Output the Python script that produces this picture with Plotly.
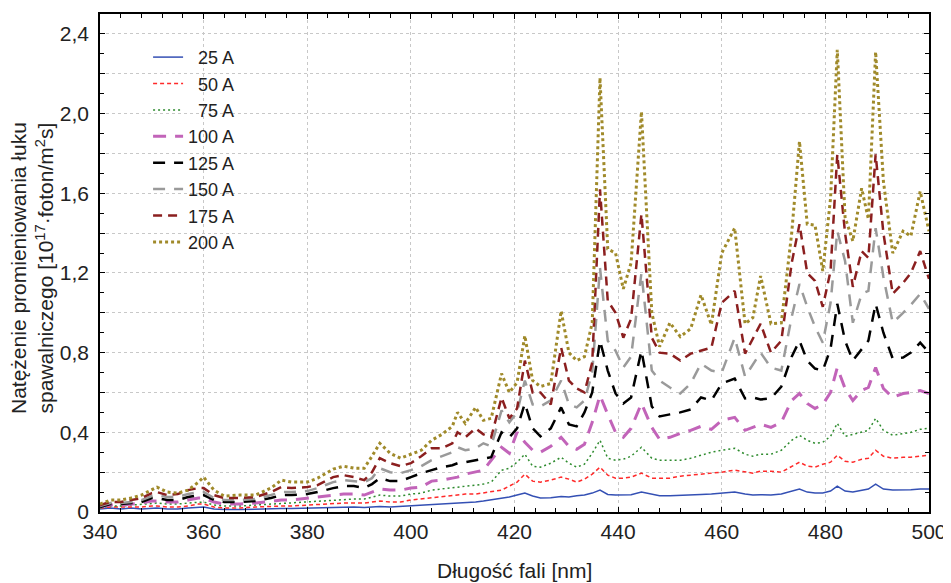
import plotly.graph_objects as go

wavelength = [340, 342, 344, 346, 348, 350, 351, 353, 355, 357, 359, 360, 362, 364, 367, 370, 373, 375, 377, 380,
              382, 385, 387, 389, 391, 392.5, 394, 396, 398, 400, 402, 404, 406, 408, 409, 410.5, 412.5, 414, 415.5, 417.5,
              419, 420.5, 422, 423.5, 425, 427, 429, 430.5, 432, 433.5, 435, 436.5, 438, 439.5, 441, 442.5, 444.5, 446.5, 448, 450,
              452, 454, 456, 458, 460, 462.5, 464.5, 466, 467.5, 469.5, 471.5, 473.5, 475, 476.5, 478, 479.5, 481, 482.3, 483.8, 485.3,
              487, 488.3, 489.7, 491.2, 493, 495, 496.5, 498.3, 500]

i_25 = [0.015, 0.02, 0.015, 0.02, 0.015, 0.02, 0.02, 0.015, 0.015, 0.02, 0.025, 0.025, 0.015, 0.012, 0.012, 0.015, 0.015, 0.018, 0.018, 0.02,
        0.02, 0.022, 0.025, 0.025, 0.022, 0.025, 0.028, 0.025, 0.028, 0.03, 0.032, 0.035, 0.038, 0.04, 0.042, 0.045, 0.05, 0.055, 0.06, 0.07,
        0.075, 0.085, 0.095, 0.08, 0.07, 0.072, 0.078, 0.075, 0.082, 0.085, 0.095, 0.11, 0.088, 0.085, 0.085, 0.087, 0.1, 0.088, 0.082, 0.082,
        0.085, 0.085, 0.088, 0.09, 0.095, 0.1, 0.09, 0.085, 0.087, 0.085, 0.09, 0.105, 0.115, 0.1, 0.095, 0.095, 0.105, 0.13, 0.105, 0.1,
        0.11, 0.115, 0.14, 0.115, 0.11, 0.11, 0.112, 0.115, 0.115]

i_50 = [0.02, 0.025, 0.025, 0.025, 0.025, 0.03, 0.03, 0.025, 0.025, 0.03, 0.04, 0.04, 0.025, 0.02, 0.02, 0.025, 0.03, 0.03, 0.03, 0.035,
        0.035, 0.04, 0.045, 0.045, 0.045, 0.05, 0.055, 0.05, 0.05, 0.06, 0.065, 0.07, 0.075, 0.08, 0.085, 0.09, 0.09, 0.095, 0.1, 0.11,
        0.13, 0.15, 0.19, 0.155, 0.15, 0.16, 0.175, 0.165, 0.15, 0.165, 0.19, 0.225, 0.185, 0.17, 0.17, 0.175, 0.195, 0.17, 0.17, 0.17,
        0.18, 0.185, 0.19, 0.195, 0.2, 0.21, 0.2, 0.195, 0.205, 0.205, 0.2, 0.23, 0.25, 0.23, 0.225, 0.24, 0.25, 0.285, 0.255, 0.25,
        0.265, 0.27, 0.31, 0.28, 0.27, 0.275, 0.275, 0.28, 0.285]

i_75 = [0.02, 0.03, 0.03, 0.035, 0.04, 0.045, 0.045, 0.04, 0.04, 0.045, 0.05, 0.05, 0.035, 0.03, 0.03, 0.035, 0.04, 0.045, 0.045, 0.05,
        0.055, 0.06, 0.065, 0.065, 0.065, 0.075, 0.085, 0.08, 0.08, 0.09, 0.095, 0.11, 0.115, 0.12, 0.125, 0.13, 0.135, 0.14, 0.15, 0.21,
        0.22, 0.25, 0.29, 0.23, 0.225, 0.245, 0.275, 0.245, 0.225, 0.24, 0.295, 0.36, 0.27, 0.26, 0.265, 0.28, 0.325, 0.27, 0.26, 0.26,
        0.26, 0.27, 0.285, 0.3, 0.31, 0.32, 0.29, 0.28, 0.29, 0.29, 0.31, 0.36, 0.385, 0.36, 0.345, 0.35, 0.38, 0.445, 0.38, 0.39,
        0.4, 0.41, 0.47, 0.41, 0.385, 0.395, 0.4, 0.415, 0.42]

i_100 = [0.025, 0.035, 0.035, 0.04, 0.045, 0.055, 0.055, 0.05, 0.05, 0.06, 0.07, 0.07, 0.05, 0.04, 0.04, 0.045, 0.055, 0.06, 0.06, 0.07,
         0.075, 0.085, 0.09, 0.09, 0.085, 0.1, 0.115, 0.11, 0.11, 0.12, 0.125, 0.155, 0.16, 0.17, 0.175, 0.19, 0.2, 0.21, 0.26, 0.325,
         0.295, 0.4, 0.35, 0.31, 0.3, 0.33, 0.375, 0.33, 0.315, 0.34, 0.45, 0.585, 0.49, 0.4, 0.375, 0.42, 0.545, 0.425, 0.365, 0.375,
         0.395, 0.41, 0.43, 0.415, 0.46, 0.475, 0.41, 0.425, 0.44, 0.425, 0.45, 0.56, 0.595, 0.545, 0.52, 0.54, 0.6, 0.725, 0.62, 0.56,
         0.61, 0.625, 0.725, 0.62, 0.575, 0.595, 0.6, 0.61, 0.595]

i_125 = [0.025, 0.04, 0.04, 0.045, 0.05, 0.07, 0.07, 0.06, 0.06, 0.075, 0.085, 0.085, 0.06, 0.05, 0.05, 0.055, 0.07, 0.085, 0.085, 0.09,
         0.1, 0.12, 0.13, 0.13, 0.12, 0.14, 0.17, 0.155, 0.155, 0.175, 0.195, 0.21, 0.225, 0.235, 0.245, 0.25, 0.26, 0.27, 0.275, 0.4,
         0.375, 0.42, 0.545, 0.42, 0.38, 0.42, 0.525, 0.44, 0.43, 0.5, 0.6, 0.86, 0.71, 0.595, 0.545, 0.575, 0.81, 0.53, 0.48, 0.49,
         0.5, 0.515, 0.575, 0.56, 0.645, 0.67, 0.57, 0.575, 0.565, 0.57, 0.63, 0.78, 0.86, 0.76, 0.72, 0.71, 0.82, 1.045, 0.86, 0.76,
         0.82, 0.86, 1.045, 0.9, 0.77, 0.775, 0.8, 0.85, 0.8]

i_150 = [0.03, 0.045, 0.045, 0.05, 0.06, 0.08, 0.085, 0.075, 0.075, 0.09, 0.1, 0.1, 0.07, 0.06, 0.06, 0.065, 0.085, 0.1, 0.1, 0.105,
         0.12, 0.15, 0.16, 0.155, 0.15, 0.17, 0.22, 0.2, 0.195, 0.21, 0.23, 0.26, 0.28, 0.3, 0.325, 0.31, 0.32, 0.345, 0.33, 0.51,
         0.45, 0.5, 0.66, 0.54, 0.53, 0.56, 0.66, 0.54, 0.525, 0.56, 0.7, 1.225, 0.86, 0.81, 0.725, 0.78, 1.2, 0.71, 0.66, 0.625,
         0.595, 0.645, 0.745, 0.71, 0.7, 0.875, 0.68, 0.74, 0.8, 0.725, 0.71, 0.98, 1.145, 1.03, 0.93, 0.85, 1.05, 1.41, 1.26, 0.95,
         1.095, 1.11, 1.425, 1.18, 0.95, 1.0, 1.04, 1.095, 1.02]

i_175 = [0.035, 0.05, 0.05, 0.06, 0.07, 0.095, 0.1, 0.085, 0.09, 0.11, 0.12, 0.12, 0.085, 0.07, 0.07, 0.075, 0.1, 0.125, 0.12, 0.125,
         0.135, 0.175, 0.185, 0.175, 0.16, 0.2, 0.27, 0.245, 0.23, 0.245, 0.28, 0.32, 0.32, 0.345, 0.4, 0.375, 0.42, 0.39, 0.375, 0.575,
         0.47, 0.52, 0.76, 0.6, 0.6, 0.54, 0.825, 0.66, 0.62, 0.6, 0.75, 1.62, 1.06, 1.0, 0.875, 0.97, 1.495, 0.875, 0.8, 0.795,
         0.76, 0.795, 0.81, 0.825, 1.05, 1.11, 0.795, 0.87, 0.945, 0.8, 0.86, 1.25, 1.445, 1.2, 1.16, 1.03, 1.21, 1.795, 1.4, 1.13,
         1.31, 1.275, 1.795, 1.4, 1.095, 1.15, 1.2, 1.31, 1.17]

i_200 = [0.04, 0.06, 0.06, 0.07, 0.085, 0.11, 0.125, 0.1, 0.095, 0.11, 0.15, 0.175, 0.11, 0.08, 0.085, 0.085, 0.12, 0.16, 0.15, 0.15,
         0.17, 0.215, 0.23, 0.22, 0.22, 0.28, 0.345, 0.295, 0.27, 0.29, 0.31, 0.36, 0.39, 0.43, 0.5, 0.445, 0.525, 0.46, 0.47, 0.695,
         0.6, 0.65, 0.885, 0.66, 0.63, 0.645, 1.01, 0.8, 0.76, 0.78, 0.95, 2.18, 1.32, 1.3, 1.12, 1.25, 2.01, 1.0, 0.83, 0.95,
         0.88, 0.92, 1.09, 0.94, 1.3, 1.425, 0.945, 0.975, 1.185, 0.945, 0.95, 1.4, 1.86, 1.445, 1.44, 1.21, 1.575, 2.32, 1.48, 1.36,
         1.625, 1.47, 2.31, 1.66, 1.3, 1.41, 1.385, 1.61, 1.41]

series_names = ["\u200725 A", "\u200750 A", "\u200775 A", "100 A", "125 A", "150 A", "175 A", "200 A"]
series_values = [i_25, i_50, i_75, i_100, i_125, i_150, i_175, i_200]

y_tickvals = [0, 0.2, 0.4, 0.6, 0.8, 1.0, 1.2, 1.4, 1.6, 1.8, 2.0, 2.2, 2.4]
y_ticktext = ["0", "", "0,4", "", "0,8", "", "1,2", "", "1,6", "", "2,0", "", "2,4"]
x_tickvals = [340, 360, 380, 400, 420, 440, 460, 480, 500]
x_ticktext = ["340", "360", "380", "400", "420", "440", "460", "480", "500"]

styles = [
    dict(color="#3450b4", width=1.5, dash="solid"),
    dict(color="#ff2a2a", width=1.5, dash="4px,3px"),
    dict(color="#2e8b2e", width=1.5, dash="2px,3px"),
    dict(color="#c264b9", width=3, dash="13px,9px"),
    dict(color="#000000", width=2.5, dash="12px,9px"),
    dict(color="#9a9a9a", width=2.5, dash="12px,9px"),
    dict(color="#8b1f1f", width=2.5, dash="9px,6px"),
    dict(color="#a08a2a", width=3, dash="3px,3px"),
]

FONT = "Liberation Sans, Arial, sans-serif"
TXT = "#222222"

fig = go.Figure()
for name, vals, st in zip(series_names, series_values, styles):
    fig.add_trace(go.Scatter(x=wavelength, y=vals, mode="lines", name=name, line=st))

axis_common = dict(
    showline=True, linecolor="black", linewidth=1.5, mirror="ticks",
    ticks="inside", ticklen=5, tickcolor="black", tickwidth=1,
    showgrid=True, gridcolor="#c8c8c8", gridwidth=1, griddash="dot",
    zeroline=False, tickfont=dict(family=FONT, size=21, color=TXT),
)

fig.update_xaxes(range=[340, 500], tickmode="array", tickvals=x_tickvals, ticktext=x_ticktext,
                 minor=dict(dtick=4, ticks="inside", ticklen=4, tickcolor="black", showgrid=False),
                 **axis_common)
fig.update_yaxes(range=[0, 2.5], tickmode="array", tickvals=y_tickvals, ticktext=y_ticktext,
                 ticklabelstandoff=5,
                 minor=dict(dtick=0.1, ticks="inside", ticklen=4, tickcolor="black", showgrid=False),
                 **axis_common)

fig.add_annotation(text="Natężenie promieniowania łuku<br>spawalniczego [10<sup>17</sup>·foton/m<sup>2</sup>s]",
                   xref="paper", yref="paper", x=-0.082, y=0.49, xanchor="center", yanchor="middle",
                   textangle=-90, showarrow=False, font=dict(family=FONT, size=21, color=TXT))
fig.add_annotation(text="Długość fali [nm]", xref="paper", yref="paper", x=0.5, y=-0.118,
                   xanchor="center", yanchor="middle", showarrow=False,
                   font=dict(family=FONT, size=21, color=TXT))

# page body has an 8px margin: figure is sized so the plot area lands where the reference has it
fig.update_layout(
    width=943, height=575,
    margin=dict(l=92, r=19, t=4, b=71),
    paper_bgcolor="white", plot_bgcolor="white",
    font=dict(family=FONT, size=20, color=TXT),
    legend=dict(x=0.058, y=0.95, xanchor="left", yanchor="top", bgcolor="rgba(0,0,0,0)",
                font=dict(family=FONT, size=18, color=TXT), tracegroupgap=0),
    showlegend=True,
)

fig.write_html("out.html")
